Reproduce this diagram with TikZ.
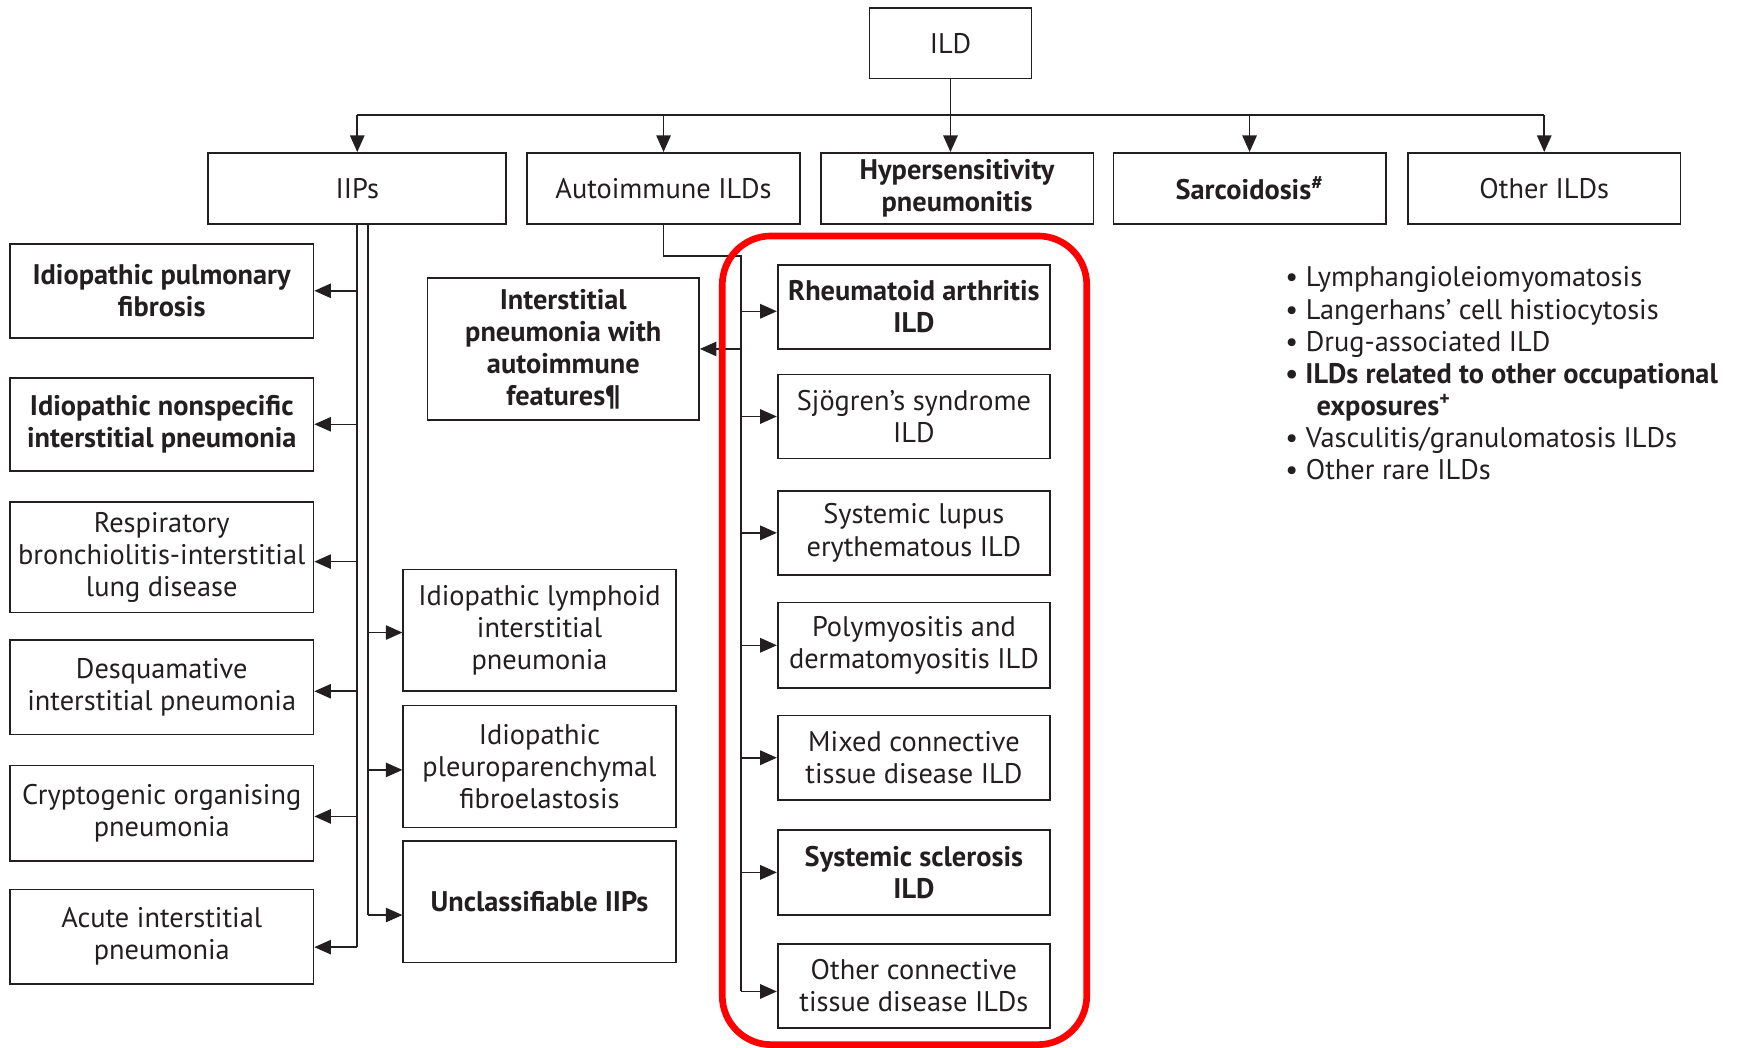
\documentclass[tikz,border=0pt]{standalone}
\usepackage{fontspec}
\setmainfont{PT Sans}
\usetikzlibrary{arrows.meta}
\definecolor{ink}{HTML}{231F20}
\newcommand\dfont{\fontsize{12.8}{14.5}\selectfont}
\begin{document}
\begin{tikzpicture}[x=0.5pt,y=-0.5pt,
  every node/.style={text=ink, font=\dfont},
  bx/.style={draw=ink, line width=0.75pt, align=center, inner sep=2pt},
  ln/.style={draw=ink, line width=0.7pt},
  arr/.style={draw=ink, line width=0.7pt, -{Triangle[length=7.5pt,width=6.5pt]}},
  frame/.style={draw=red, line width=3pt, rounded corners=22pt}]
\useasboundingbox (0,0) rectangle (1568,946);

% top
\node[bx, minimum width=73pt, minimum height=32pt] (ild) at (858,39) {ILD};
\node[bx, minimum width=134.5pt, minimum height=32pt] (iips) at (322.5,170) {IIPs};
\node[bx, minimum width=123pt, minimum height=32pt] (ai) at (599,170) {Autoimmune ILDs};
\node[bx, minimum width=123pt, minimum height=32pt] (hp) at (864,170) {\textbf{Hypersensitivity}\\\textbf{pneumonitis}};
\node[bx, minimum width=123pt, minimum height=32pt] (sarc) at (1128,170) {\textbf{Sarcoidosis\textsuperscript{\#}}};
\node[bx, minimum width=123pt, minimum height=32pt] (oth) at (1394,170) {Other ILDs};

% left column
\node[bx, minimum width=137pt, minimum height=42.5pt] (ipf) at (146,262.5) {\textbf{Idiopathic pulmonary}\\\textbf{fibrosis}};
\node[bx, minimum width=137pt, minimum height=42pt] (nsip) at (146,383) {\textbf{Idiopathic nonspecific}\\\textbf{interstitial pneumonia}};
\node[bx, minimum width=137pt, minimum height=50pt] (rb) at (146,503) {Respiratory\\bronchiolitis-interstitial\\lung disease};
\node[bx, minimum width=137pt, minimum height=42.5pt] (dip) at (146,620.5) {Desquamative\\interstitial pneumonia};
\node[bx, minimum width=137pt, minimum height=43pt] (cop) at (146,734) {Cryptogenic organising\\pneumonia};
\node[bx, minimum width=137pt, minimum height=42.5pt] (aip) at (146,845.5) {Acute interstitial\\pneumonia};

% middle column
\node[bx, minimum width=123pt, minimum height=55pt] (lip) at (487,569) {Idiopathic lymphoid\\interstitial\\pneumonia};
\node[bx, minimum width=123pt, minimum height=55pt] (ppfe) at (487,692) {Idiopathic\\pleuroparenchymal\\fibroelastosis};
\node[bx, minimum width=123pt, minimum height=55pt] (unc) at (487,814) {\textbf{Unclassifiable IIPs}};
\node[bx, minimum width=122.5pt, minimum height=64pt] (ipaf) at (508.5,315) {\textbf{Interstitial}\\\textbf{pneumonia with}\\\textbf{autoimmune}\\\textbf{features¶}};

% autoimmune column
\node[bx, minimum width=123pt, minimum height=38pt] (ra) at (825,277) {\textbf{Rheumatoid arthritis}\\\textbf{ILD}};
\node[bx, minimum width=123pt, minimum height=38pt] (ss) at (825,376) {Sjögren's syndrome\\ILD};
\node[bx, minimum width=123pt, minimum height=38pt] (sle) at (825,481) {Systemic lupus\\erythematous ILD};
\node[bx, minimum width=123pt, minimum height=38.5pt] (pm) at (825,582.5) {Polymyositis and\\dermatomyositis ILD};
\node[bx, minimum width=123pt, minimum height=38pt] (mctd) at (825,684) {Mixed connective\\tissue disease ILD};
\node[bx, minimum width=123pt, minimum height=38.5pt] (ssc) at (825,787.5) {\textbf{Systemic sclerosis}\\\textbf{ILD}};
\node[bx, minimum width=123pt, minimum height=38pt] (oct) at (825,890) {Other connective\\tissue disease ILDs};

% bullet list
\node[anchor=base west, inner sep=0pt] (b1) at (1160,259) {\textbullet\ Lymphangioleiomyomatosis};
\node[anchor=base west, inner sep=0pt] (b2) at (1160,288) {\textbullet\ Langerhans' cell histiocytosis};
\node[anchor=base west, inner sep=0pt] (b3) at (1160,317) {\textbullet\ Drug-associated ILD};
\node[anchor=base west, inner sep=0pt] (b4) at (1160,346) {\textbf{\textbullet\ ILDs related to other occupational}};
\node[anchor=base west, inner sep=0pt] (b4b) at (1188,375) {\textbf{exposures\textsuperscript{+}}};
\node[anchor=base west, inner sep=0pt] (b5) at (1160,404) {\textbullet\ Vasculitis/granulomatosis ILDs};
\node[anchor=base west, inner sep=0pt] (b6) at (1160,433) {\textbullet\ Other rare ILDs};

% connectors: top level
\coordinate (bus) at (858,104);
\draw[arr] (ild.south) -- (ild.south |- hp.north);
\draw[ln] (iips.north |- bus) -- (oth.north |- bus);
\foreach \n in {iips,ai,sarc,oth} \draw[arr] (\n.north |- bus) -- (\n.north);

% IIPs branches
\coordinate (vLend) at (323,855);
\coordinate (vR) at (332,202);
\coordinate (vRend) at (332,826);
\draw[ln] (iips.south) -- (iips.south |- vLend);
\foreach \n/\dy in {ipf/0,nsip/0,rb/4,dip/3.5,cop/3}
  \draw[arr] ([yshift=-\dy*0.5pt]iips.south |- \n.east) -- ([yshift=-\dy*0.5pt]\n.east);
\draw[arr] (iips.south |- vLend) -- (aip.east |- vLend);
\draw[ln] (vR) -- (vRend);
\foreach \n/\dy in {lip/2,ppfe/3}
  \draw[arr] ([yshift=-\dy*0.5pt]vR |- \n.west) -- ([yshift=-\dy*0.5pt]\n.west);
\draw[arr] (vRend) -- (unc.west |- vRend);

% autoimmune branches
\coordinate (aC) at (669,231);
\coordinate (aCend) at (669,895);
\draw[ln] (ai.south) |- (aC) -- (aCend);
\draw[arr] (aC |- ipaf.east) -- (ipaf.east);
\draw[arr] (aC |- 0,281) -- (ra.west |- 0,281);
\foreach \n in {ss,sle,pm,mctd,ssc}
  \draw[arr] (aC |- \n.west) -- (\n.west);
\draw[arr] (aCend) -- (oct.west |- aCend);

% red frame
\draw[frame] (652,213) rectangle (981,943);
\end{tikzpicture}
\end{document}
